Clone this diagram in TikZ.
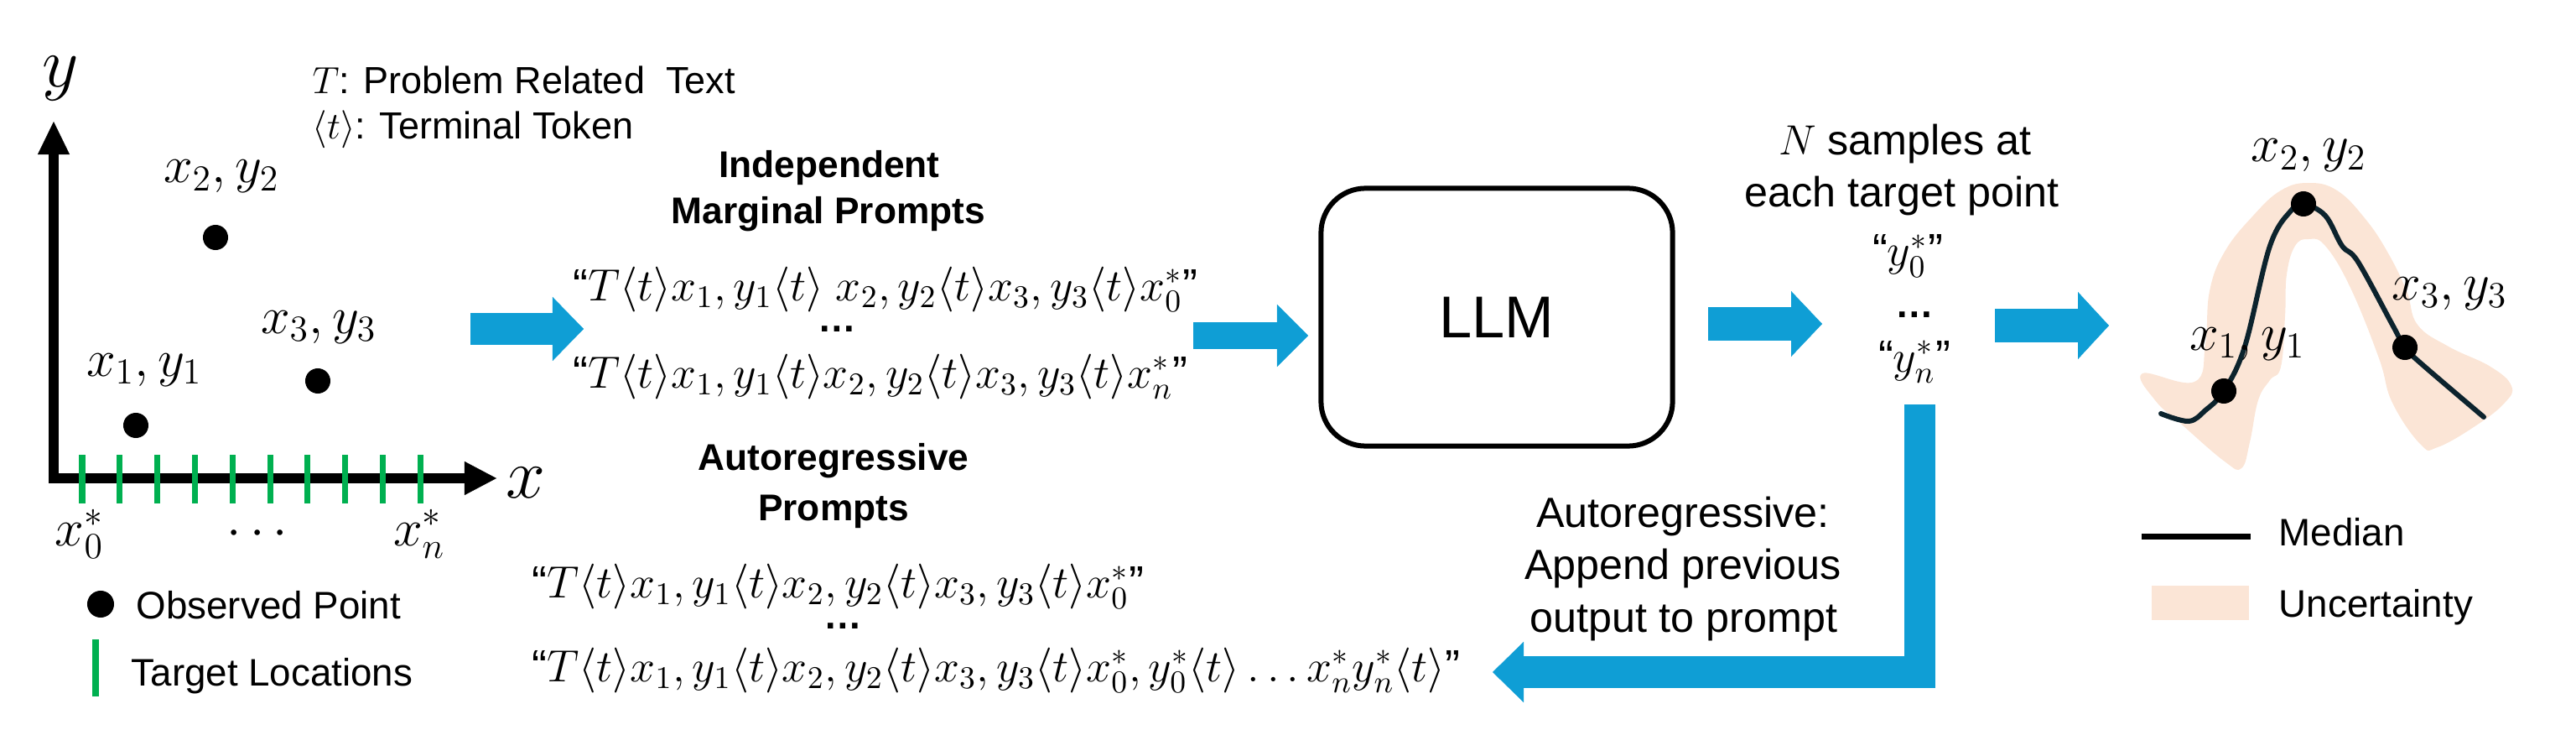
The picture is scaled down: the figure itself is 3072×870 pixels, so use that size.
\RequirePackage{fix-cm}
\documentclass[tikz,border=0pt]{standalone}
\usepackage{amsmath}
\usepackage{fontspec}
\setmainfont{Liberation Sans}
\usetikzlibrary{arrows.meta}
\definecolor{arrowBlue}{HTML}{0F9ED5}
\definecolor{tickGreen}{HTML}{00B050}
\definecolor{bandPeach}{HTML}{FBE5D6}
\definecolor{curveDark}{RGB}{12,35,45}

\begin{document}
\begin{tikzpicture}[x=0.01cm, y=-0.01cm,
    every node/.style={inner sep=0pt},
    note/.style={anchor=base west, font=\fontsize{12.8}{15}\selectfont},
    legendtext/.style={anchor=base west, font=\fontsize{13}{16}\selectfont},
    caption/.style={anchor=base, font=\fontsize{14.3}{17}\selectfont},
    heading/.style={anchor=base, font=\bfseries\fontsize{12.6}{15}\selectfont},
    prompt/.style={anchor=base west, font=\fontsize{15.3}{18}\selectfont},
    ptlabel/.style={anchor=base, font=\fontsize{17.7}{21}\selectfont},
    axislabel/.style={anchor=base, font=\fontsize{24}{28}\selectfont},
    gap/.style={anchor=base, text height=0.6ex, text depth=0pt,
      font=\bfseries\fontsize{13}{15}\selectfont},
    obs/.style={circle, fill=black, minimum size=0.30cm},
    target/.style={tickGreen, line width=0.07cm},
    fatarrow/.style 2 args={arrowBlue, line width=#1,
      -{Triangle[length=0.37cm, width=#2, line width=0.1pt]}},
  ]
  \useasboundingbox (0,0) rectangle (3072,870);

  % observed data
  \coordinate (origin) at (64,570);
  \coordinate (ytip) at (64,145);
  \coordinate (xtip) at (592,570);
  \draw[line width=0.12cm, line join=miter,
    {Triangle[length=0.39cm, width=0.38cm, line width=0.1pt]}-{Triangle[length=0.38cm, width=0.40cm, line width=0.1pt]}]
    (ytip) -- (origin) -- (xtip);
  \node[axislabel] (ylab) at (72,104) {$y$};
  \node[axislabel] (xlab) at (627,593) {$x$};
  \foreach \i in {0,...,9}
    \draw[target] ({98+44.8*\i},542) -- ({98+44.8*\i},600);
  \node[ptlabel] (xzero) at (95,650) {$x_0^*$};
  \node[ptlabel] (xdots) at (312,650) {$\cdots$};
  \node[ptlabel] (xlast) at (500,650) {$x_n^*$};

  \node[obs] (p1) at (162,507) {};
  \node[obs] (p2) at (257,283) {};
  \node[obs] (p3) at (379,454) {};
  \node[ptlabel] (p1lab) at (172,448) {$x_1, y_1$};
  \node[ptlabel] (p2lab) at (264,218) {$x_2, y_2$};
  \node[ptlabel] (p3lab) at (380,397) {$x_3, y_3$};

  \node[note] (noteT) at (372,112) {$T$: Problem Related\ \ Text};
  \node[note] (notet) at (372,166) {$\langle t\rangle$: Terminal Token};

  \node[obs, minimum size=0.32cm] (legdot) at (120,720) {};
  \node[legendtext] (legobs) at (162,737) {Observed Point};
  \draw[target] (114,762) -- (114,830);
  \node[legendtext] (legtgt) at (156,817) {Target Locations};

  % prompts
  \node[heading] (indepA) at (989,212) {Independent};
  \node[heading] (indepB) at (988,267) {Marginal Prompts};
  \node[prompt] (ipOne) at (683,358)
    {“$T\langle t\rangle x_1, y_1\langle t\rangle\ x_2, y_2\langle t\rangle x_3, y_3\langle t\rangle x_0^*$”};
  \node[gap] (ipDots) at (998,396) {…};
  \node[prompt] (ipTwo) at (683,462)
    {“$T\langle t\rangle x_1, y_1\langle t\rangle x_2, y_2\langle t\rangle x_3, y_3\langle t\rangle x_n^*$”};

  \node[heading] (autoA) at (994,560) {Autoregressive};
  \node[heading] (autoB) at (994,620) {Prompts};
  \node[prompt] (arOne) at (634,712)
    {“$T\langle t\rangle x_1, y_1\langle t\rangle x_2, y_2\langle t\rangle x_3, y_3\langle t\rangle x_0^*$”};
  \node[gap] (arDots) at (1005,749) {…};
  \node[prompt] (arTwo) at (634,812)
    {“$T\langle t\rangle x_1, y_1\langle t\rangle x_2, y_2\langle t\rangle x_3, y_3\langle t\rangle x_0^*, y_0^*\langle t\rangle \ldots x_n^* y_n^*\langle t\rangle$”};

  % model and samples
  \node[draw, line width=0.06cm, rounded corners=0.53cm, minimum width=4.19cm,
    minimum height=3.07cm, font=\fontsize{20}{24}\selectfont] (llm) at (1785,378) {LLM};

  \node[caption] (sampA) at (2272,185) {$N$ samples at};
  \node[caption] (sampB) at (2268,247) {each target point};
  \node[prompt, anchor=base] (yzero) at (2275,317) {“$y_0^*$”};
  \node[gap] (ydots) at (2283,378) {…};
  \node[prompt, anchor=base] (ylast) at (2283,443) {“$y_n^*$”};

  \node[caption] (loopA) at (2007,628) {Autoregressive:};
  \node[caption] (loopB) at (2007,690) {Append previous};
  \node[caption] (loopC) at (2008,753) {output to prompt};

  % arrows
  \coordinate (a1s) at (561,392);
  \coordinate (a1e) at (696,392);
  \coordinate (a2s) at (1423,400);
  \coordinate (a2e) at (1560,400);
  \coordinate (a3s) at (2037,386);
  \coordinate (a3e) at (2173,386);
  \coordinate (a4s) at (2379,388);
  \coordinate (a4e) at (2515,388);
  \coordinate (loopTop) at (2289,482);
  \coordinate (loopEnd) at (1780,801);
  \draw[fatarrow={0.38cm}{0.76cm}] (a1s) -- (a1e);
  \draw[fatarrow={0.32cm}{0.74cm}] (a2s) -- (a2e);
  \draw[fatarrow={0.40cm}{0.78cm}] (a3s) -- (a3e);
  \draw[fatarrow={0.40cm}{0.80cm}] (a4s) -- (a4e);
  \draw[fatarrow={0.37cm}{0.72cm}, line join=miter] (loopTop) |- (loopEnd);

  % predictive distribution
  \fill[bandPeach] plot[smooth cycle, tension=0.7] coordinates {
    (2555,445) (2617,455) (2630,410) (2635,347) (2653,300) (2687,257)
    (2720,227) (2753,218) (2787,227) (2820,260) (2847,300) (2870,347)
    (2883,387) (2920,413) (2970,437) (2995,460) (2987,480) (2953,507)
    (2907,533) (2887,530) (2853,480) (2837,427) (2803,343) (2773,293)
    (2753,285) (2737,293) (2727,327) (2725,377) (2720,437) (2707,453)
    (2693,477) (2683,527) (2673,558) (2653,550) (2603,507) (2570,477)};
  \draw[curveDark, line width=0.06cm, line cap=round] plot[smooth, tension=0.6] coordinates {
    (2577,493) (2610,502) (2630,489) (2652,466) (2677,413) (2707,293)
    (2733,250) (2747,243) (2773,257) (2793,293) (2812,312) (2853,387)
    (2868,414) (2887,433) (2962,497)};
  \node[obs] (q1) at (2652,466) {};
  \node[obs] (q2) at (2747,243) {};
  \node[obs] (q3) at (2868,414) {};
  \node[ptlabel] (q1lab) at (2680,417) {$x_1, y_1$};
  \node[ptlabel] (q2lab) at (2753,193) {$x_2, y_2$};
  \node[ptlabel] (q3lab) at (2921,357) {$x_3, y_3$};

  \draw[line width=0.07cm] (2554,639) -- (2684,639);
  \node[legendtext] (legmed) at (2717,650) {Median};
  \fill[bandPeach] (2566,698) rectangle (2682,739);
  \node[legendtext] (legunc) at (2717,735) {Uncertainty};
\end{tikzpicture}
\end{document}
